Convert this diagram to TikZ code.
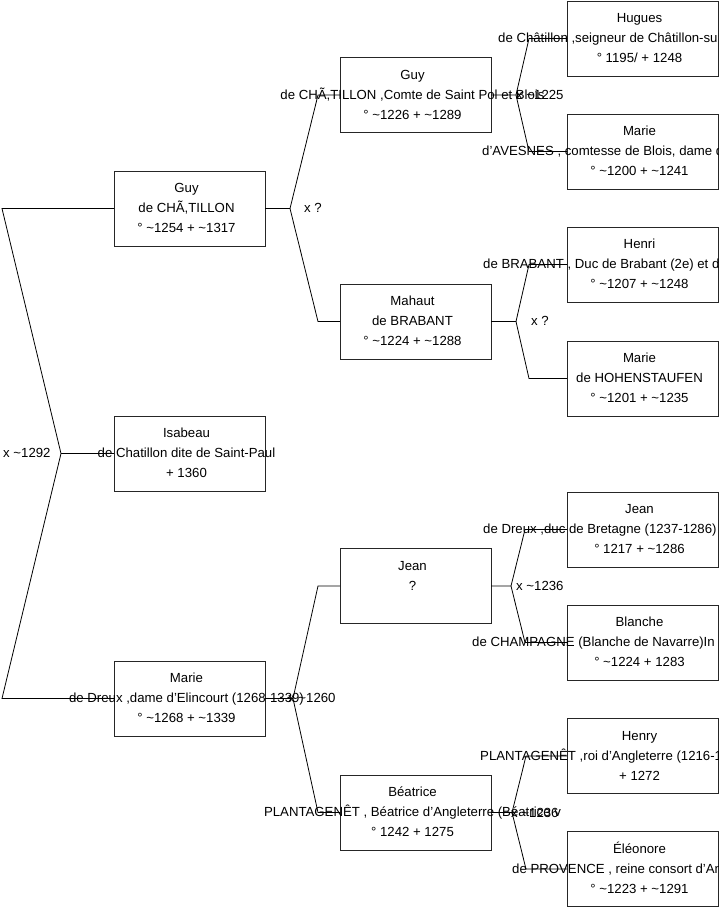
\documentclass[tikz,border=0pt]{standalone}
\usepackage{fontspec}
\setmainfont{Liberation Sans}
\newcommand{\tld}{\textasciitilde}
\tikzset{
  pbox/.style={draw=black!85, line width=0.9pt, minimum width=151pt, minimum height=75pt, inner sep=0pt, outer sep=0pt},
  ptext/.style={font=\fontsize{13.2}{15}\selectfont, inner sep=0pt, anchor=base},
  ltext/.style={ptext, anchor=base west},
  conn/.style={draw=black, line width=0.8pt},
}
% name, x, y, line1, line2, line3
\newcommand{\perso}[6]{%
  \node[pbox] (#1) at (#2,#3) {};
  \node[ptext] (#1-1) at ([xshift=-3pt,yshift=16pt]#1.center) {#4};
  \node[ptext] (#1-2) at ([xshift=-3pt,yshift=-4pt]#1.center) {#5};
  \node[ptext] (#1-3) at ([xshift=-3pt,yshift=-24pt]#1.center) {#6};
}
% name, y, line1, xleft, line2, line3 (right column, clipped text)
\newcommand{\persoL}[6]{%
  \node[pbox] (#1) at (642.5,#2) {};
  \node[ptext] (#1-1) at ([xshift=-3pt,yshift=16pt]#1.center) {#3};
  \node[ltext] (#1-2) at (#4,#2+4) {#5};
  \node[ptext] (#1-3) at ([xshift=-3pt,yshift=-24pt]#1.center) {#6};
}
\begin{document}
\begin{tikzpicture}[x=1pt,y=-1pt]
\useasboundingbox (0,0) rectangle (719,908);
\clip (0,0) rectangle (719,908);

% generation 1
\perso{guyA}{189.5}{208.5}{Guy}{de CHÃ,TILLON}{° \tld1254 + \tld1317}
\perso{isa}{189.5}{453.5}{Isabeau}{de Chatillon dite de Saint-Paul}{+ 1360}
\perso{marA}{189.5}{698.5}{Marie}{de Dreux ,dame d'Elincourt (1268-1339)}{° \tld1268 + \tld1339}

% generation 2
\perso{guyB}{415.5}{95}{Guy}{de CHÃ,TILLON ,Comte de Saint Pol et Blois}{° \tld1226 + \tld1289}
\perso{mah}{415.5}{321.5}{Mahaut}{de BRABANT}{° \tld1224 + \tld1288}
\node[pbox] (jeanB) at (415.5,586) {};
\node[ptext] (jeanB-1) at ([xshift=-3pt,yshift=16pt]jeanB.center) {Jean};
\node[ptext] (jeanB-2) at ([xshift=-3pt,yshift=-4pt]jeanB.center) {?};
\perso{bea}{415.5}{812.5}{Béatrice}{PLANTAGENÊT , Béatrice d'Angleterre (Béatrice v}{° 1242 + 1275}

% generation 3
\persoL{hug}{38.5}{Hugues}{498}{de Châtillon ,seigneur de Châtillon-su}{° 1195/ + 1248}
\persoL{marC}{151.5}{Marie}{482}{d'AVESNES , comtesse de Blois, dame d}{° \tld1200 + \tld1241}
\persoL{hen}{264.5}{Henri}{483}{de BRABANT , Duc de Brabant (2e) et d}{° \tld1207 + \tld1248}
\perso{marD}{642.5}{378.5}{Marie}{de HOHENSTAUFEN}{° \tld1201 + \tld1235}
\persoL{jeanC}{529.5}{Jean}{483}{de Dreux ,duc de Bretagne (1237-1286)}{° 1217 + \tld1286}
\persoL{bla}{642.5}{Blanche}{472}{de CHAMPAGNE (Blanche de Navarre)In}{° \tld1224 + 1283}
\persoL{henry}{756}{Henry}{480}{PLANTAGENÊT ,roi d'Angleterre (1216-1}{+ 1272}
\persoL{ele}{869}{Éléonore}{512}{de PROVENCE , reine consort d'An}{° \tld1223 + \tld1291}

% connector points
\coordinate (r0) at (2,208.5);
\coordinate (r1) at (2,698.5);
\coordinate (rf) at (61,453.5);
\coordinate (f1) at (290,208.5);
\coordinate (f1a) at (318,95);
\coordinate (f1b) at (318,321.5);
\coordinate (f2) at (293,698.5);
\coordinate (f2a) at (318,586);
\coordinate (f2b) at (318,812.5);
\coordinate (f3) at (516,95);
\coordinate (f3a) at (529,38.5);
\coordinate (f3b) at (529,151.5);
\coordinate (f4) at (516,321.5);
\coordinate (f4a) at (529,264.5);
\coordinate (f4b) at (529,378.5);
\coordinate (f5) at (511,586);
\coordinate (f5a) at (525,529.5);
\coordinate (f5b) at (525,642.5);
\coordinate (f6) at (512,812.5);
\coordinate (f6a) at (526,756);
\coordinate (f6b) at (526,869);

% connectors
\draw[conn] (guyA.west) -- (r0) -- (rf) -- (r1) -- (marA.west);
\draw[conn] (rf) -- (isa.west);
\draw[conn] (guyA.east) -- (f1) -- (f1a) -- (guyB.west);
\draw[conn] (f1) -- (f1b) -- (mah.west);
\draw[conn] (marA.east) -- (f2) -- (f2a) -- (jeanB.west);
\draw[conn] (f2) -- (f2b) -- (bea.west);
\draw[conn] (guyB.east) -- (f3) -- (f3a) -- (hug.west);
\draw[conn] (f3) -- (f3b) -- (marC.west);
\draw[conn] (mah.east) -- (f4) -- (f4a) -- (hen.west);
\draw[conn] (f4) -- (f4b) -- (marD.west);
\draw[conn] (jeanB.east) -- (f5) -- (f5a) -- (jeanC.west);
\draw[conn] (f5) -- (f5b) -- (bla.west);
\draw[conn] (bea.east) -- (f6) -- (f6a) -- (henry.west);
\draw[conn] (f6) -- (f6b) -- (ele.west);

% marriage labels
\node[ltext] (m0) at (3,457.5) {x \tld1292};
\node[ltext] (m1) at (304,212) {x ?};
\node[ltext] (m2) at (288,702.5) {x \tld1260};
\node[ltext] (m3) at (516,99) {x \tld1225};
\node[ltext] (m4) at (531,325) {x ?};
\node[ltext] (m5) at (516,590.5) {x \tld1236};
\node[ltext] (m6) at (511,817) {x \tld1236};
\end{tikzpicture}
\end{document}
